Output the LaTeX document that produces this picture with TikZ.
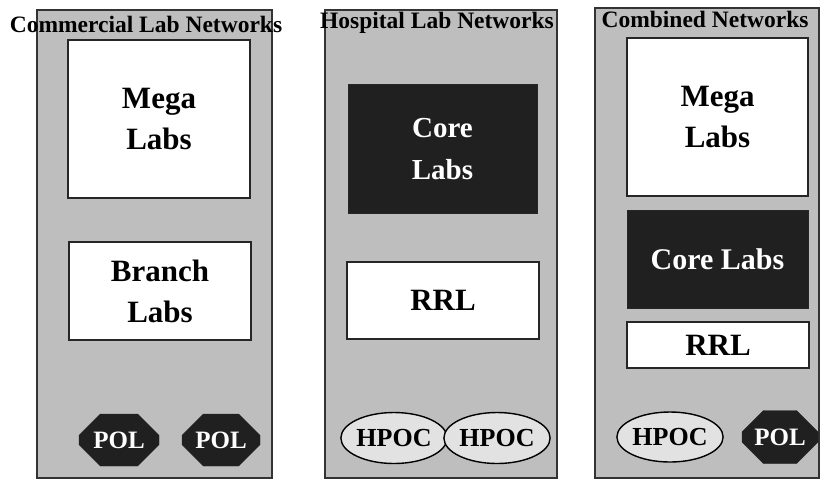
\documentclass[tikz,border=0pt]{standalone}
\usepackage{fontspec}
\setmainfont{Liberation Serif}
\usetikzlibrary{shapes.geometric,shapes.misc}
\definecolor{panelgray}{RGB}{190,190,190}
\definecolor{labdark}{RGB}{32,32,32}
\definecolor{hpocgray}{RGB}{226,226,226}
\tikzset{
	panel/.style={draw=black!80,line width=1.2pt,fill=panelgray},
	paneltitle/.style={anchor=base,inner sep=0pt,font=\fontsize{23.5}{26}\selectfont\bfseries},
	labbox/.style={draw=black!85,line width=1.4pt,fill=white,align=center,inner sep=0pt,
		font=\fontsize{31}{41}\selectfont\bfseries},
	corebox/.style={draw=black!85,line width=1pt,fill=labdark,text=white,align=center,inner sep=0pt,
		font=\fontsize{29}{42}\selectfont\bfseries},
	polnode/.style={chamfered rectangle,chamfered rectangle sep=13pt,
		draw=labdark,fill=labdark,text=white,inner sep=0pt,font=\fontsize{25}{28}\selectfont\bfseries},
	hpocnode/.style={ellipse,draw=black,line width=1.4pt,fill=hpocgray,inner sep=0pt,
		font=\fontsize{26}{28}\selectfont\bfseries}
}
\begin{document}
\begin{tikzpicture}[x=1pt,y=-1pt]
	\useasboundingbox[fill=white] (0,0) rectangle (821,483);
	%panels
	\filldraw[panel] (37,10) rectangle (272,478);
	\filldraw[panel] (325,10) rectangle (557,478);
	\filldraw[panel] (595,8) rectangle (819,478);
	\node (comtitle) at (146,32)[paneltitle]{Commercial Lab Networks};
	\node (hosptitle) at (437,28)[paneltitle]{Hospital Lab Networks};
	\node (combtitle) at (705,27)[paneltitle]{Combined Networks};
	%commercial
	\node (mega1) at (159,119)[labbox,minimum width=182pt,minimum height=158pt]{Mega\\Labs};
	\node (branch) at (160,291)[labbox,minimum width=182pt,minimum height=98pt]{Branch\\Labs};
	\node (pol1) at (119,440)[polnode,minimum width=80pt,minimum height=52pt]{POL};
	\node (pol2) at (221,440)[polnode,minimum width=78pt,minimum height=52pt]{POL};
	%hospital
	\node (core2) at (442.5,149)[corebox,minimum width=189pt,minimum height=129pt]{Core\\Labs};
	\node (rrl2) at (443,300.5)[labbox,minimum width=192pt,minimum height=77pt]{RRL};
	\node (hpoc1) at (394,438)[hpocnode,minimum width=105pt,minimum height=51pt]{HPOC};
	\node (hpoc2) at (497,438)[hpocnode,minimum width=101pt,minimum height=51pt]{HPOC};
	%combined
	\node (mega3) at (717.5,117)[labbox,minimum width=181pt,minimum height=158pt]{Mega\\Labs};
	\node (core3) at (717.5,259)[corebox,font=\fontsize{30}{36}\selectfont\bfseries,minimum width=181pt,minimum height=98pt]{Core Labs};
	\node (rrl3) at (718,345)[labbox,minimum width=182pt,minimum height=46pt]{RRL};
	\node (hpoc3) at (670,437)[hpocnode,minimum width=100pt,minimum height=50pt]{HPOC};
	\node (pol3) at (780,437)[polnode,minimum width=76pt,minimum height=53pt]{POL};
\end{tikzpicture}
\end{document}
